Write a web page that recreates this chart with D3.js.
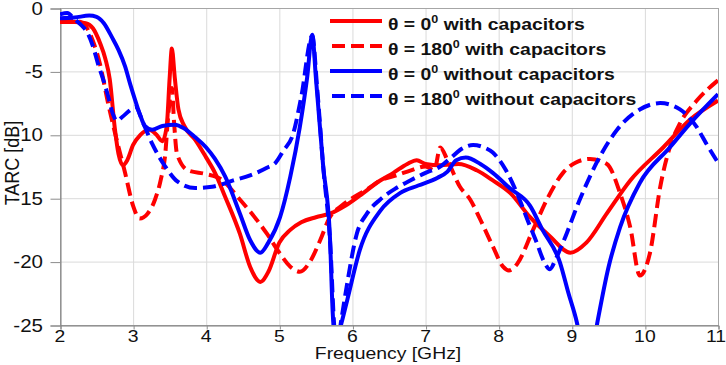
<!DOCTYPE html>
<html>
<head>
<meta charset="utf-8">
<script src="https://cdn.jsdelivr.net/npm/d3@7"></script>
<style>
  body { margin: 0; background: #fff; }
  svg { display: block; font-family: "Liberation Sans", Arial, sans-serif; }
</style>
</head>
<body>
<svg id="chart" width="726" height="365"></svg>
<script>
// TARC curves, [frequency GHz, dB]
const cap0 = [[2.0,-1.1],[2.2,-1.1],[2.35,-1.2],[2.45,-1.6],[2.55,-2.8],[2.62,-4.0],[2.68,-5.6],[2.75,-9.5],[2.8,-11.5],
  [2.86,-12.4],[2.92,-12.0],[3.0,-10.8],[3.1,-10.0],[3.22,-9.6],[3.32,-10.0],[3.4,-10.5],[3.46,-9.3],[3.5,-5.5],[3.53,-3.2],
  [3.57,-5.5],[3.62,-8.0],[3.7,-9.3],[3.85,-10.4],[4.0,-11.8],[4.12,-13.0],[4.26,-14.9],[4.46,-17.8],[4.6,-20.4],[4.74,-21.6],
  [4.85,-20.8],[5.0,-18.5],[5.15,-17.5],[5.3,-16.9],[5.5,-16.5],[5.7,-16.2],[5.9,-15.6],[6.1,-14.8],[6.38,-13.6],[6.56,-13.0],
  [6.75,-12.3],[6.88,-12.0],[7.0,-12.3],[7.2,-12.4],[7.45,-12.3],[7.7,-12.8],[7.92,-13.6],[8.16,-14.6],[8.43,-16.5],[8.7,-18.0],
  [8.98,-19.3],[9.2,-18.5],[9.48,-16.2],[9.8,-13.6],[10.25,-11.0],[10.62,-8.8],[11.0,-7.3]];

const cap180 = [[2.0,-1.0],[2.2,-1.0],[2.33,-1.3],[2.45,-2.6],[2.55,-4.5],[2.65,-7.3],[2.75,-9.8],[2.89,-13.0],[3.0,-15.6],
  [3.09,-16.6],[3.2,-16.2],[3.3,-15.1],[3.38,-13.5],[3.44,-11.5],[3.48,-8.5],[3.53,-6.3],[3.56,-9.0],[3.6,-11.5],[3.75,-12.8],
  [4.0,-13.1],[4.2,-13.5],[4.46,-15.1],[4.83,-17.8],[5.0,-19.3],[5.15,-20.4],[5.28,-20.8],[5.42,-20.0],[5.56,-18.3],[5.69,-16.5],
  [5.85,-15.6],[5.97,-15.1],[6.2,-14.3],[6.38,-13.6],[6.6,-13.2],[6.8,-12.8],[7.0,-12.5],[7.12,-12.8],[7.2,-11.0],[7.3,-12.0],
  [7.47,-14.1],[7.61,-15.1],[7.75,-16.7],[7.92,-18.8],[8.06,-20.4],[8.14,-20.7],[8.25,-20.2],[8.47,-17.5],[8.66,-15.1],
  [8.88,-13.0],[9.05,-12.2],[9.25,-11.9],[9.48,-12.3],[9.66,-14.6],[9.8,-17.3],[9.93,-21.1],[10.07,-19.3],[10.21,-14.1],
  [10.34,-11.0],[10.48,-9.1],[10.71,-7.3],[11.0,-5.7]];

const nocap0 = [[2.0,-0.8],[2.2,-0.75],[2.4,-0.6],[2.5,-0.7],[2.6,-1.2],[2.71,-2.3],[2.8,-3.3],[2.89,-4.6],[2.96,-6.0],
  [3.03,-7.3],[3.1,-8.5],[3.16,-9.3],[3.26,-9.6],[3.4,-9.3],[3.57,-9.2],[3.7,-9.5],[3.85,-10.2],[4.0,-11.0],[4.12,-11.9],
  [4.26,-13.3],[4.46,-16.2],[4.6,-18.3],[4.74,-19.3],[4.85,-18.5],[5.01,-16.5],[5.15,-13.3],[5.28,-9.4],[5.38,-5.5],[5.45,-2.1],
  [5.5,-5.5],[5.6,-12.5],[5.69,-17.8],[5.73,-24.0],[5.77,-26.5],[5.82,-25.5],[5.93,-23.0],[6.1,-19.1],[6.38,-16.0],[6.65,-14.6],
  [6.9,-14.0],[7.16,-13.4],[7.3,-12.9],[7.42,-12.0],[7.55,-11.8],[7.75,-12.3],[7.92,-13.0],[8.15,-14.2],[8.43,-15.6],[8.6,-17.5],
  [8.84,-20.1],[8.95,-22.4],[9.07,-24.8],[9.15,-27.0],[9.28,-27.0],[9.35,-24.8],[9.5,-20.5],[9.66,-17.3],[9.93,-13.8],
  [10.34,-11.0],[10.62,-9.1],[11.0,-6.8]];

const nocap180 = [[2.0,-0.5],[2.1,-0.4],[2.2,-0.9],[2.3,-1.4],[2.38,-2.0],[2.45,-3.0],[2.52,-4.4],[2.6,-5.8],[2.66,-7.0],
  [2.72,-8.3],[2.78,-8.9],[2.85,-8.6],[2.95,-8.1],[3.03,-7.8],[3.14,-9.1],[3.26,-10.7],[3.44,-12.5],[3.61,-13.7],[3.85,-14.2],
  [4.08,-14.1],[4.37,-13.6],[4.6,-13.2],[4.83,-12.6],[4.95,-12.2],[5.05,-11.3],[5.19,-9.9],[5.3,-7.0],[5.45,-2.2],[5.52,-6.5],
  [5.6,-12.5],[5.7,-19.0],[5.75,-25.0],[5.79,-26.5],[5.85,-24.5],[5.92,-22.0],[6.06,-17.8],[6.2,-16.2],[6.38,-15.1],[6.6,-14.2],
  [6.79,-13.6],[7.0,-13.0],[7.2,-12.5],[7.35,-11.8],[7.47,-11.2],[7.65,-10.8],[7.8,-11.0],[7.92,-11.4],[8.1,-12.8],[8.25,-14.6],
  [8.4,-16.8],[8.52,-18.5],[8.62,-20.0],[8.7,-20.6],[8.78,-19.8],[8.88,-18.5],[9.11,-15.1],[9.34,-12.2],[9.62,-9.6],[9.93,-8.0],
  [10.21,-7.5],[10.48,-8.0],[10.71,-9.4],[10.85,-10.8],[11.0,-12.2]];

const xTicks = [2, 3, 4, 5, 6, 7, 8, 9, 10, 11];
const yTicks = [0, -5, -10, -15, -20, -25];
const legendAngles = ["0", "180", "0", "180"];
const legendTails = ["with capacitors", "with capacitors", "without capacitors", "without capacitors"];

const series = [
  { data: cap0, color: "#ff0000", dash: null },
  { data: cap180, color: "#ff0000", dash: "13,6" },
  { data: nocap0, color: "#0000ff", dash: null },
  { data: nocap180, color: "#0000ff", dash: "13,6" }
];

const SX = 1.14; // the picture's text is a little wider than it is tall
const svg = d3.select("#chart");

const x = d3.scaleLinear().domain([2, 11]).range([60, 718]);
const y = d3.scaleLinear().domain([-25, 0]).range([325, 8]);

function label(g, px, py, str, size, anchor) {
  return g.append("text")
    .attr("transform", `translate(${px},${py}) scale(${SX},1)`)
    .attr("text-anchor", anchor)
    .attr("fill", "#111")
    .style("font-size", size + "px")
    .text(str);
}

// grid
const grid = svg.append("g").attr("stroke", "#dadada").attr("stroke-width", 1);
grid.selectAll(".gx").data(xTicks).enter().append("line")
  .attr("x1", d => x(d) + 0.5).attr("x2", d => x(d) + 0.5)
  .attr("y1", y(0)).attr("y2", y(-25));
grid.selectAll(".gy").data(yTicks).enter().append("line")
  .attr("x1", x(2)).attr("x2", x(11))
  .attr("y1", d => y(d) + 0.5).attr("y2", d => y(d) + 0.5);

// frame
svg.append("rect")
  .attr("x", x(2) + 0.5).attr("y", y(0) + 0.5)
  .attr("width", x(11) - x(2)).attr("height", y(-25) - y(0))
  .attr("fill", "none").attr("stroke", "#a6a6a6");

// axes
svg.append("g")
  .attr("transform", `translate(${x(2) + 0.5},0.5)`)
  .call(d3.axisLeft(y).tickValues(yTicks).tickSize(10).tickFormat(""));
svg.append("g")
  .attr("transform", `translate(0.5,${y(-25) + 0.5})`)
  .call(d3.axisBottom(x).tickValues(xTicks).tickSize(4).tickFormat(""));
svg.selectAll(".domain").attr("stroke", "#7f7f7f");
svg.selectAll(".tick line").attr("stroke", "#8c8c8c");

yTicks.forEach(t => label(svg, 43, y(t) + 6.5, String(t), 18, "end"));
xTicks.forEach(t => label(svg, Math.min(x(t), 716), 342, String(t), 17, "middle"));

label(svg, 388, 359, "Frequency [GHz]", 17, "middle");
svg.append("text")
  .attr("transform", `translate(19,163) scale(${SX},1) rotate(-90)`)
  .attr("text-anchor", "middle")
  .attr("fill", "#111")
  .style("font-size", "18px")
  .text("TARC [dB]");

// curves
svg.append("clipPath").attr("id", "plot")
  .append("rect").attr("x", x(2)).attr("y", y(0))
  .attr("width", x(11) - x(2)).attr("height", y(-25) - y(0));

const line = d3.line()
  .x(d => x(d[0]))
  .y(d => y(d[1]))
  .curve(d3.curveMonotoneX);

svg.append("g").attr("clip-path", "url(#plot)")
  .selectAll("path")
  .data(series)
  .enter().append("path")
  .attr("d", d => line(d.data))
  .attr("fill", "none")
  .attr("stroke", d => d.color)
  .attr("stroke-width", 4)
  .attr("stroke-linejoin", "round")
  .attr("stroke-dasharray", d => d.dash);

// legend
const legend = svg.append("g");
series.forEach((s, i) => {
  const ly = 21 + i * 25;
  legend.append("line")
    .attr("x1", s.dash ? 332 : 330).attr("x2", 382)
    .attr("y1", ly).attr("y2", ly)
    .attr("stroke", s.color).attr("stroke-width", 4)
    .attr("stroke-dasharray", s.dash ? "13,6" : null);
  const t = legend.append("text")
    .attr("transform", `translate(388,${ly + 8.5}) scale(${SX},1)`)
    .attr("fill", "#111")
    .style("font-size", "17px")
    .style("font-weight", "bold");
  t.append("tspan").text("θ = " + legendAngles[i]);
  t.append("tspan").attr("dy", -7).style("font-size", "11px").text("0");
  t.append("tspan").attr("dy", 7).text(" " + legendTails[i]);
});
</script>
</body>
</html>
